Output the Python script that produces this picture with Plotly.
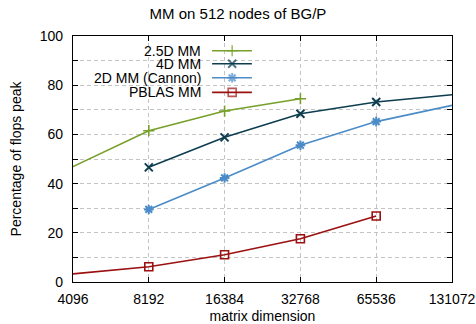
import plotly.graph_objects as go

dims = [4096, 8192, 16384, 32768, 65536, 131072]
tick_labels = ["4096", "8192", "16384", "32768", "65536", "131072"]

x_25d = [4096, 8192, 16384, 32768]
y_25d = [46.9, 61.5, 69.5, 74.5]

x_4d = [8192, 16384, 32768, 65536, 131072]
y_4d = [46.6, 58.8, 68.4, 73.2, 76.1]

x_2d = [8192, 16384, 32768, 65536, 131072]
y_2d = [29.5, 42.3, 55.6, 65.2, 71.8]

x_pb = [4096, 8192, 16384, 32768, 65536]
y_pb = [3.3, 6.2, 11.1, 17.6, 26.8]

names = ["2.5D MM", "4D MM", "2D MM (Cannon)", "PBLAS MM"]
colors = ["#77a02a", "#0d3d4f", "#4a8bc8", "#9b1010"]
symbols = ["cross-thin-open", "x-thin-open", "asterisk-open", "square-open"]
sizes = [8, 8, 8, 8]
mwidths = [1.6, 2.0, 2.0, 1.6]
series = [(x_25d, y_25d), (x_4d, y_4d), (x_2d, y_2d), (x_pb, y_pb)]

FONT = "Liberation Sans, Arial, sans-serif"
GRID = dict(showgrid=True, gridcolor="#c4c4c4", griddash="4px,3px", gridwidth=1)

fig = go.Figure()
for (xs, ys), n, c, s, sz, mw in zip(series, names, colors, symbols, sizes, mwidths):
    fig.add_trace(go.Scatter(
        x=xs, y=ys, mode="lines+markers", name=n,
        line=dict(color=c, width=1.6),
        marker=dict(symbol=s, size=sz, color=c, line=dict(color=c, width=mw)),
        showlegend=False, cliponaxis=False,
    ))

# custom legend (text left of sample, like gnuplot)
leg_y = [0.940, 0.887, 0.830, 0.771]
x0, xm, x1 = 0.367, 0.42, 0.472
for n, c, s, sz, mw, ly in zip(names, colors, symbols, sizes, mwidths, leg_y):
    fig.add_trace(go.Scatter(
        x=[x0, xm, x1], y=[ly, ly, ly], xaxis="x2", yaxis="y2",
        mode="lines+markers", showlegend=False, hoverinfo="skip",
        line=dict(color=c, width=1.6),
        marker=dict(symbol=s, size=[0, sz, 0], color=c, line=dict(color=c, width=mw)),
    ))
    fig.add_annotation(x=0.342, y=ly, xref="paper", yref="paper", text=n,
                       showarrow=False, xanchor="right", yanchor="middle",
                       font=dict(family=FONT, size=14, color="#000"))

fig.update_layout(
    width=476, height=324,
    margin=dict(l=73, r=24, t=36, b=42, autoexpand=False),
    paper_bgcolor="white", plot_bgcolor="white",
    font=dict(family=FONT, size=14, color="#000"),
    title=dict(text="MM on 512 nodes of BG/P", x=0.5, xanchor="center",
               y=1 - 14 / 324, yanchor="middle", font=dict(size=15, family=FONT)),
    xaxis=dict(
        type="log", range=[3.6124, 5.1175], automargin=False,
        tickvals=dims, ticktext=tick_labels,
        ticks="inside", ticklen=5, tickcolor="#000",
        showline=True, linecolor="#000", linewidth=1.2, mirror="ticks",
        zeroline=False, ticklabelstandoff=4,
        title=dict(text="matrix dimension", standoff=6, font=dict(size=14)),
        tickfont=dict(size=14), **GRID,
    ),
    yaxis=dict(
        range=[0, 100], tickvals=[0, 20, 40, 60, 80, 100], automargin=False,
        ticks="inside", ticklen=5, tickcolor="#000",
        showline=True, linecolor="#000", linewidth=1.2, mirror="ticks",
        zeroline=False, ticklabelstandoff=6,
        minor=dict(tickvals=[10, 30, 50, 70, 90], ticks="inside", ticklen=5,
                   tickcolor="#000", **GRID),
        title=dict(text="Percentage of flops peak", standoff=14, font=dict(size=14)),
        tickfont=dict(size=14), **GRID,
    ),
    xaxis2=dict(range=[0, 1], overlaying="x", visible=False, fixedrange=True),
    yaxis2=dict(range=[0, 1], overlaying="y", visible=False, fixedrange=True),
)

fig.write_html("out.html")
